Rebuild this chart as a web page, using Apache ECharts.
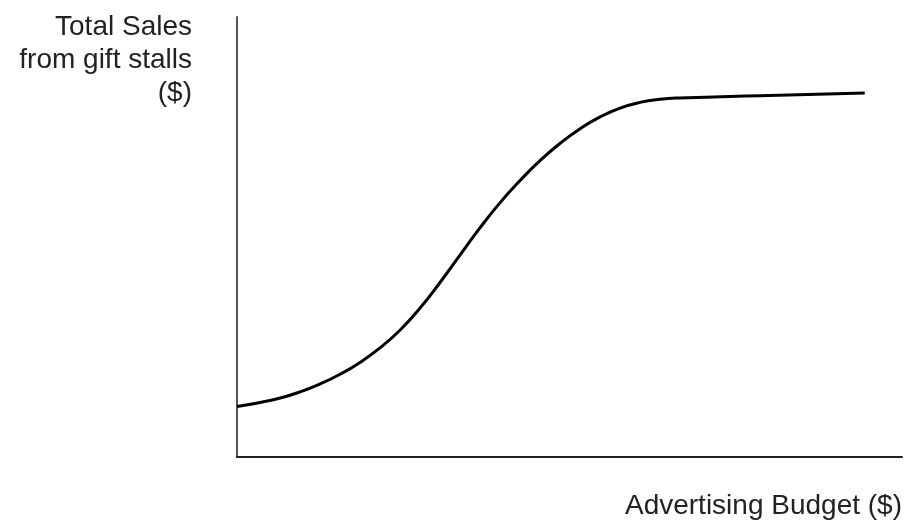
<!DOCTYPE html>
<html>
<head>
<meta charset="utf-8">
<script src="https://cdn.jsdelivr.net/npm/echarts@6/dist/echarts.min.js"></script>
<style>
html,body{margin:0;padding:0;background:#fff;}
#chart{width:912px;height:522px;}
</style>
</head>
<body>
<div id="chart"></div>
<script>
// Advertising budget (relative units, 0-100) vs total sales (relative units, 0-100)
const budget = [0, 3.5, 6.5, 9.5, 12.5, 15.5, 18.5, 21.5, 24.5, 27.5, 30.5, 33.5, 36.5, 39.5, 42.6, 45.6, 48.6, 51.6, 54.6, 57.6, 60.6, 63.6, 66.6, 78.6, 94.4];
const sales  = [11.5, 12.4, 13.4, 14.8, 16.6, 18.8, 21.5, 24.8, 28.8, 33.8, 39.6, 45.8, 52.0, 57.7, 62.9, 67.4, 71.3, 74.6, 77.3, 79.3, 80.6, 81.3, 81.6, 82.1, 82.7];
const yTitleLines = ['Total Sales', 'from gift stalls', '($)'];
const xTitle = 'Advertising Budget ($)';

const chart = echarts.init(document.getElementById('chart'));
const font = '"Liberation Sans", Arial, Helvetica, sans-serif';
const yTitleGraphics = yTitleLines.map((t, i) => ({
  type: 'text', right: 720, top: 11 + i * 33,
  style: {text: t, font: '28px ' + font, fill: '#222', lineHeight: 33}
}));
chart.setOption({
  animation: false,
  backgroundColor: '#fff',
  grid: {left: 237, right: 10, top: 17, bottom: 65},
  xAxis: {
    type: 'value', min: 0, max: 100,
    axisLine: {show: true, onZero: false, lineStyle: {color: '#222', width: 2}},
    axisTick: {show: false}, axisLabel: {show: false}, splitLine: {show: false}
  },
  yAxis: {
    type: 'value', min: 0, max: 100,
    axisLine: {show: true, onZero: false, lineStyle: {color: '#555', width: 2}},
    axisTick: {show: false}, axisLabel: {show: false}, splitLine: {show: false}
  },
  series: [{
    type: 'line',
    data: budget.map((b, i) => [b, sales[i]]),
    smooth: 0.5,
    showSymbol: false,
    lineStyle: {color: '#000', width: 3}
  }],
  graphic: yTitleGraphics.concat([
    {type: 'text', right: 10, top: 490, style: {text: xTitle, font: '28px ' + font, fill: '#222', lineHeight: 33}}
  ])
});
</script>
</body>
</html>
